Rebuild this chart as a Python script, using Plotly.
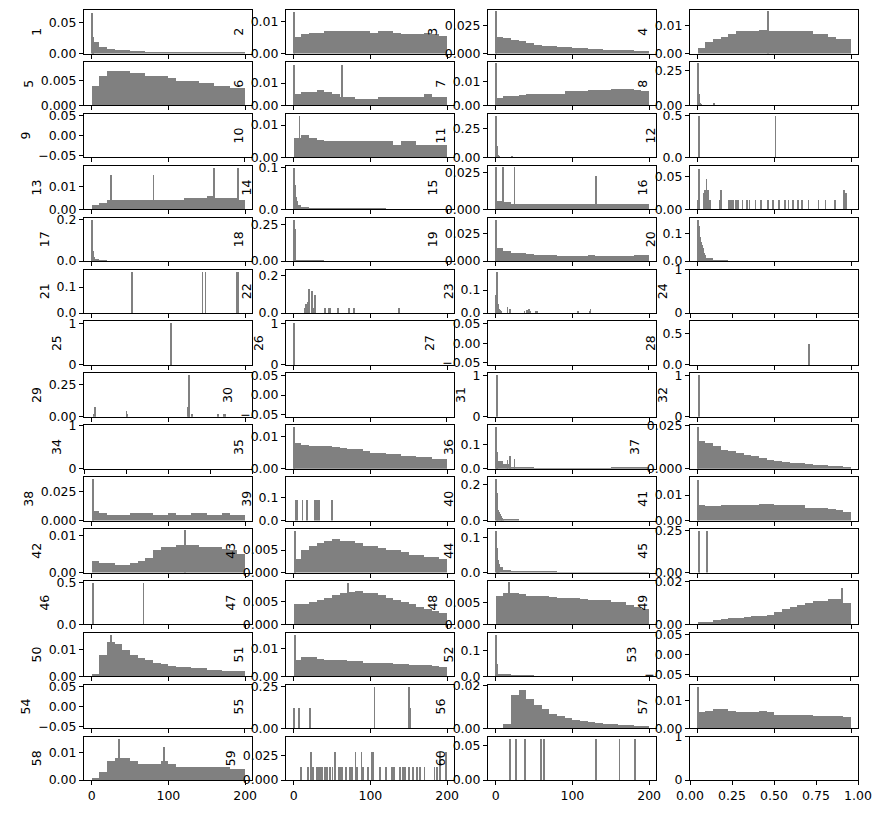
import plotly.graph_objects as go

LABELS = ["1","2","3","4","5","6","7","8","9","10","11","12","13","14","15","16","17","18","19","20",
          "21","22","23","24","25","26","27","28","29","30","31","32","34","35","36","37","38","39","40","41",
          "42","43","44","45","46","47","48","49","50","51","52","53","54","55","56","57","58","59","60",""]

# coarse density profiles (10-unit bins over 0..200)
COARSE = {
 "1": [0.018,0.011,0.008,0.006,0.005,0.004,0.004,0.003,0.003,0.003,0.003,0.003,0.003,0.003,0.003,0.003,0.003,0.002,0.002,0.002],
 "2": [0.005,0.006,0.0065,0.0065,0.007,0.007,0.007,0.007,0.007,0.007,0.0065,0.007,0.007,0.0065,0.006,0.006,0.006,0.0065,0.006,0.0055],
 "3": [0.015,0.014,0.012,0.011,0.009,0.008,0.007,0.0065,0.006,0.0055,0.005,0.0045,0.004,0.004,0.0035,0.003,0.003,0.003,0.0025,0.002],
 "4": [0.002,0.004,0.005,0.006,0.007,0.008,0.008,0.008,0.0085,0.008,0.008,0.008,0.008,0.008,0.008,0.007,0.007,0.006,0.005,0.005],
 "5": [0.004,0.006,0.007,0.007,0.007,0.0065,0.0065,0.006,0.006,0.006,0.0055,0.005,0.005,0.005,0.0045,0.0045,0.004,0.004,0.0035,0.0035],
 "6": [0.005,0.006,0.006,0.007,0.006,0.005,0.004,0.004,0.003,0.003,0.003,0.004,0.004,0.004,0.004,0.004,0.004,0.005,0.004,0.004],
 "7": [0.003,0.004,0.004,0.0045,0.005,0.005,0.005,0.005,0.005,0.006,0.006,0.006,0.0065,0.0065,0.0065,0.007,0.007,0.007,0.0065,0.006],
 "10": [0.006,0.007,0.006,0.0055,0.005,0.005,0.005,0.005,0.005,0.005,0.005,0.005,0.005,0.004,0.005,0.005,0.004,0.004,0.004,0.004],
 "13": [0.002,0.003,0.004,0.004,0.004,0.004,0.004,0.004,0.004,0.004,0.004,0.004,0.005,0.005,0.005,0.006,0.005,0.005,0.005,0.004],
 "14": [0.012,0.005,0.003,0.002,0.002,0.002,0.002,0.002,0.0015,0.0015,0.0015,0.0015,0.001,0.001,0.001,0.001,0.001,0.001,0.001,0.001],
 "15": [0.006,0.005,0.004,0.004,0.004,0.004,0.004,0.004,0.004,0.004,0.004,0.004,0.004,0.004,0.004,0.004,0.004,0.004,0.004,0.004],
 "17": [0.01,0.003,0.002,0.001,0.001,0.001,0.001,0.001,0.001,0.001,0.001,0.001,0.001,0.001,0.001,0.001,0.001,0.001,0.0,0.0],
 "18": [0.01,0.006,0.005,0.004,0.003,0.002,0.002,0,0,0,0,0,0,0,0,0,0,0,0,0],
 "19": [0.012,0.009,0.008,0.008,0.007,0.006,0.006,0.006,0.005,0.005,0.005,0.005,0.006,0.005,0.005,0.005,0.005,0.005,0.006,0.006],
 "20": [0.0,0.012,0.005,0.002,0,0,0,0,0,0,0,0,0,0,0,0,0,0,0,0],
 "23": [0.002,0.002,0.002,0.002,0.002,0.002,0,0,0,0,0,0,0,0,0,0,0,0,0,0],
 "35": [0.008,0.0075,0.0072,0.007,0.007,0.0068,0.0065,0.006,0.006,0.0055,0.005,0.005,0.0045,0.0045,0.004,0.004,0.0035,0.0035,0.003,0.003],
 "36": [0.03,0.02,0.005,0.003,0.003,0.002,0.002,0.002,0.002,0.002,0.002,0.002,0.002,0.002,0.002,0.003,0.003,0.003,0.003,0.003],
 "37": [0.016,0.015,0.013,0.011,0.01,0.009,0.008,0.007,0.006,0.005,0.0045,0.004,0.003,0.003,0.0025,0.002,0.002,0.0015,0.0015,0.001],
 "38": [0.008,0.006,0.005,0.005,0.005,0.006,0.006,0.006,0.005,0.005,0.006,0.005,0.005,0.006,0.006,0.005,0.005,0.006,0.005,0.005],
 "40": [0.0,0.006,0.005,0,0,0,0,0,0,0,0,0,0,0,0,0,0,0,0,0],
 "41": [0.006,0.0055,0.0055,0.006,0.006,0.006,0.006,0.006,0.0065,0.0065,0.006,0.006,0.006,0.006,0.005,0.005,0.005,0.0045,0.004,0.0035],
 "42": [0.003,0.0025,0.0025,0.002,0.002,0.0025,0.003,0.004,0.006,0.007,0.007,0.0075,0.0075,0.0075,0.007,0.007,0.007,0.0065,0.006,0.005],
 "43": [0.003,0.005,0.006,0.0065,0.007,0.0075,0.007,0.007,0.0065,0.006,0.006,0.0055,0.005,0.005,0.0045,0.004,0.004,0.0035,0.0035,0.003],
 "44": [0.015,0.007,0.004,0.003,0.002,0.002,0.0015,0.0015,0.001,0.001,0.001,0.001,0.001,0.001,0.001,0.001,0.001,0.001,0.001,0.001],
 "47": [0.0045,0.0045,0.005,0.0055,0.006,0.0065,0.007,0.0072,0.0075,0.007,0.007,0.0065,0.006,0.0055,0.005,0.0045,0.004,0.0035,0.003,0.0025],
 "48": [0.0065,0.007,0.007,0.0068,0.0065,0.0065,0.0065,0.0062,0.006,0.006,0.006,0.0058,0.0056,0.0055,0.0055,0.005,0.005,0.0045,0.004,0.0035],
 "49": [0.001,0.001,0.002,0.0025,0.003,0.003,0.0035,0.004,0.004,0.0045,0.006,0.007,0.008,0.009,0.01,0.011,0.011,0.012,0.012,0.01],
 "50": [0.001,0.008,0.013,0.012,0.01,0.008,0.007,0.006,0.005,0.0045,0.004,0.0035,0.0035,0.003,0.003,0.0025,0.0025,0.002,0.002,0.002],
 "51": [0.006,0.007,0.007,0.0065,0.006,0.006,0.006,0.0055,0.0055,0.005,0.005,0.005,0.0048,0.0045,0.0045,0.0042,0.004,0.004,0.0038,0.0035],
 "52": [0.01,0.008,0.005,0.003,0.002,0.001,0.001,0.001,0.001,0.001,0.001,0.001,0.001,0.001,0.001,0.001,0.001,0.001,0.001,0.001],
 "56": [0.0,0.002,0.016,0.018,0.014,0.011,0.009,0.007,0.006,0.005,0.004,0.0035,0.003,0.0025,0.002,0.002,0.0015,0.0015,0.001,0.001],
 "57": [0.006,0.0065,0.007,0.007,0.0065,0.006,0.006,0.006,0.0065,0.006,0.005,0.005,0.005,0.005,0.005,0.0045,0.0045,0.0045,0.0045,0.004],
 "58": [0.001,0.003,0.007,0.008,0.008,0.007,0.006,0.006,0.006,0.007,0.006,0.005,0.005,0.005,0.005,0.005,0.005,0.005,0.004,0.004],
}

# single-bin spikes: (bin, density)
SPIKES = {
 "1": [(0,0.065),(1,0.027),(2,0.026)],
 "2": [(0,0.013)],
 "3": [(0,0.038)],
 "4": [(91,0.015)],
 "6": [(0,0.018),(63,0.018)],
 "7": [(0,0.018)],
 "8": [(0,0.3),(1,0.08),(2,0.03),(3,0.02),(4,0.01),(21,0.02)],
 "10": [(7,0.013)],
 "11": [(0,0.36),(1,0.1),(2,0.04),(3,0.02),(4,0.01),(21,0.015)],
 "12": [(1,0.5),(101,0.5)],
 "13": [(25,0.015),(80,0.015),(159,0.018),(190,0.018)],
 "14": [(0,0.1),(1,0.06),(2,0.04),(3,0.03),(4,0.02)],
 "15": [(0,0.029),(9,0.029),(24,0.029),(130,0.023)],
 "16": [(0,0.015),(1,0.062),(2,0.03),(8,0.025),(9,0.03),(11,0.047),(13,0.03),(16,0.015),(29,0.015),(30,0.03),
        (40,0.015),(43,0.015),(46,0.015),(49,0.015),(52,0.015),(58,0.015),(64,0.015),(67,0.015),(75,0.015),(82,0.015),
        (91,0.015),(98,0.015),(106,0.015),(113,0.015),(118,0.015),(124,0.015),(130,0.015),(135,0.015),(144,0.015),(157,0.015),
        (166,0.015),(178,0.015),(190,0.03),(193,0.025)],
 "17": [(0,0.2),(1,0.05),(2,0.03),(3,0.02)],
 "18": [(0,0.28),(1,0.22)],
 "19": [(0,0.037)],
 "20": [(0,0.15),(1,0.13),(2,0.11),(3,0.09),(4,0.07),(5,0.06),(6,0.05),(7,0.04),(8,0.03),(9,0.025)],
 "21": [(52,0.16),(144,0.16),(148,0.16),(189,0.16),(191,0.16)],
 "22": [(14,0.03),(16,0.05),(18,0.06),(20,0.13),(23,0.12),(26,0.03),(27,0.1),(28,0.1),(40,0.03),(45,0.03),
        (47,0.03),(57,0.03),(72,0.03),(78,0.03),(137,0.03)],
 "23": [(0,0.08),(1,0.18),(2,0.05),(3,0.04),(4,0.02),(5,0.015),(7,0.01),(15,0.03),(18,0.02),(37,0.01),
        (40,0.015),(43,0.02),(45,0.01),(52,0.01),(54,0.01),(107,0.01),(122,0.01),(123,0.02)],
 "25": [(103,1.0)],
 "26": [(0,1.0)],
 "28": [(145,0.33)],
 "29": [(2,0.02),(4,0.07),(45,0.04),(46,0.02),(125,0.07),(126,0.32),(127,0.24),(130,0.02),(164,0.02),(172,0.02),(174,0.02)],
 "31": [(1,1.0)],
 "32": [(1,1.0)],
 "35": [(0,0.013)],
 "36": [(0,0.17),(1,0.07),(2,0.04),(15,0.035),(18,0.05),(24,0.04)],
 "37": [(0,0.024)],
 "38": [(1,0.035)],
 "39": [(2,0.09),(4,0.09),(11,0.09),(17,0.09),(27,0.09),(30,0.09),(33,0.09),(49,0.09)],
 "40": [(0,0.23),(1,0.15),(2,0.1),(3,0.06),(4,0.045),(5,0.035),(6,0.025),(7,0.02),(8,0.015),(9,0.01)],
 "41": [(0,0.016)],
 "42": [(121,0.0115)],
 "43": [(1,0.0093)],
 "44": [(0,0.12),(1,0.07),(2,0.05),(3,0.035),(4,0.025)],
 "45": [(1,0.25),(2,0.25),(12,0.25)],
 "46": [(1,0.5),(67,0.5)],
 "47": [(70,0.0093)],
 "48": [(17,0.0095)],
 "49": [(188,0.017)],
 "50": [(25,0.0155)],
 "51": [(1,0.015)],
 "52": [(0,0.16),(1,0.05),(2,0.02)],
 "55": [(0,0.125),(6,0.125),(21,0.125),(105,0.25),(150,0.25),(151,0.125)],
 "57": [(0,0.015)],
 "58": [(35,0.015),(94,0.012)],
 "59": [(9,0.014),(18,0.014),(19,0.014),(22,0.029),(25,0.014),(30,0.014),(33,0.014),(35,0.014),(37,0.014),(40,0.014),
        (43,0.014),(47,0.014),(50,0.014),(53,0.029),(58,0.014),(60,0.014),(63,0.014),(68,0.014),(73,0.014),(76,0.014),
        (80,0.029),(82,0.014),(88,0.029),(90,0.014),(96,0.014),(101,0.029),(103,0.029),(112,0.014),(120,0.014),(128,0.014),
        (130,0.014),(138,0.014),(142,0.014),(145,0.014),(150,0.014),(155,0.014),(160,0.014),(164,0.014),(170,0.014),
        (183,0.014),(186,0.014),(190,0.029),(198,0.029)],
 "60": [(18,0.06),(26,0.06),(38,0.06),(59,0.06),(63,0.06),(130,0.06),(161,0.06),(181,0.06)],
}

# y axis top and tick step / format
YAX = {
 "1":(0.07,0.05,".2f"),"2":(0.0135,0.01,".2f"),"3":(0.039,0.025,".3f"),"4":(0.0155,0.01,".2f"),
 "5":(0.0088,0.005,".3f"),"6":(0.0195,0.01,".2f"),"7":(0.0185,0.01,".2f"),"8":(0.31,0.25,".2f"),
 "10":(0.0135,0.01,".2f"),"11":(0.38,0.25,".2f"),"12":(0.525,0.5,".1f"),"13":(0.019,0.01,".2f"),
 "14":(0.105,0.1,".1f"),"15":(0.03,0.025,".3f"),"16":(0.066,0.05,".2f"),"17":(0.21,0.2,".1f"),
 "18":(0.295,0.25,".2f"),"19":(0.039,0.025,".3f"),"20":(0.158,0.1,".1f"),"21":(0.168,0.1,".1f"),
 "22":(0.23,0.2,".1f"),"23":(0.19,0.1,".1f"),"25":(1.05,1,"d"),"26":(1.05,1,"d"),"28":(0.7,0.5,".1f"),
 "29":(0.335,0.25,".2f"),"31":(1.05,1,"d"),"32":(1.05,1,"d"),"35":(0.0137,0.01,".2f"),"36":(0.18,0.1,".1f"),
 "37":(0.0252,0.025,".3f"),"38":(0.037,0.025,".3f"),"39":(0.19,0.1,".1f"),"40":(0.24,0.2,".1f"),
 "41":(0.017,0.01,".2f"),"42":(0.0118,0.01,".2f"),"43":(0.0097,0.005,".3f"),"44":(0.126,0.1,".1f"),
 "45":(0.262,0.25,".2f"),"46":(0.525,0.5,".1f"),"47":(0.0097,0.005,".3f"),"48":(0.0098,0.005,".3f"),
 "49":(0.0202,0.02,".2f"),"50":(0.0163,0.01,".2f"),"51":(0.0158,0.01,".2f"),"52":(0.168,0.1,".1f"),
 "55":(0.262,0.25,".2f"),"56":(0.0205,0.02,".2f"),"57":(0.0158,0.01,".2f"),"58":(0.0158,0.01,".2f"),
 "59":(0.045,0.025,".3f"),"60":(0.063,0.05,".2f"),
}
EMPTY_SMALL = ["9","27","30","53","54"]
EMPTY_UNIT = ["24","34",""]

W, H = 881, 813
fig = go.Figure()
GRAY = "#808080"
FONT = dict(family="DejaVu Sans", size=12.5, color="black")

for idx, lab in enumerate(LABELS):
    r, c = divmod(idx, 4)
    n = idx + 1
    xa = "xaxis" if n == 1 else f"xaxis{n}"
    ya = "yaxis" if n == 1 else f"yaxis{n}"
    xr, yr = ("x" if n == 1 else f"x{n}"), ("y" if n == 1 else f"y{n}")
    left = 76 + 202 * c
    top = 2 + 51.9 * r
    dx = [left / W, (left + 168) / W]
    dy = [1 - (top + 43.5) / H, 1 - top / H]
    bottom_row = (r == 14)
    ax = dict(domain=dx, anchor=yr, showline=True, mirror=True, linecolor="black", linewidth=1,
              ticks="outside", ticklen=4, tickcolor="black", showgrid=False, zeroline=False,
              tickfont=FONT, showticklabels=bottom_row, automargin=False)
    ay = dict(domain=dy, anchor=xr, showline=True, mirror=True, linecolor="black", linewidth=1,
              ticks="outside", ticklen=4, tickcolor="black", showgrid=False, zeroline=False,
              tickfont=FONT, title=dict(text=lab, font=FONT, standoff=4), automargin=False)
    if lab in EMPTY_SMALL or lab in EMPTY_UNIT:
        if lab in EMPTY_SMALL:
            ax.update(range=[-0.055, 0.055], tickvals=[-0.05, 0, 0.05])
            ay.update(range=[-0.055, 0.055], tickvals=[-0.05, 0, 0.05], ticktext=["−0.05", "0.00", "0.05"])
        else:
            ax.update(range=[0, 1], tickvals=[0, 0.25, 0.5, 0.75, 1], tickformat=".2f")
            ay.update(range=[0, 1], tickvals=[0, 1])
        fig.add_trace(go.Scatter(x=[None], y=[None], mode="markers", xaxis=xr, yaxis=yr,
                                 showlegend=False, hoverinfo="skip"))
    else:
        ax.update(range=[-9.95, 208.95], tickvals=[0, 100, 200])
        top_y, step, fmt = YAX[lab]
        tv = [0, step] if step * 2 > top_y else [0, step, 2 * step]
        ay.update(range=[0, top_y], tickvals=tv, tickformat=fmt)
        prof = COARSE.get(lab)
        if prof:
            fig.add_trace(go.Bar(x=[i * 10 + 5 for i in range(len(prof))], y=prof, width=10,
                                 marker=dict(color=GRAY, line=dict(width=0)), xaxis=xr, yaxis=yr,
                                 showlegend=False))
        sp = SPIKES.get(lab, [])
        if sp:
            fig.add_trace(go.Bar(x=[b + 0.5 for b, _ in sp], y=[h for _, h in sp], width=1,
                                 marker=dict(color=GRAY, line=dict(width=0)), xaxis=xr, yaxis=yr,
                                 showlegend=False))
    fig.layout[xa] = ax
    fig.layout[ya] = ay

fig.update_layout(width=W, height=H, margin=dict(l=0, r=0, t=0, b=0), barmode="overlay",
                  plot_bgcolor="white", paper_bgcolor="white", font=FONT, bargap=0)
fig.write_html("out.html")
